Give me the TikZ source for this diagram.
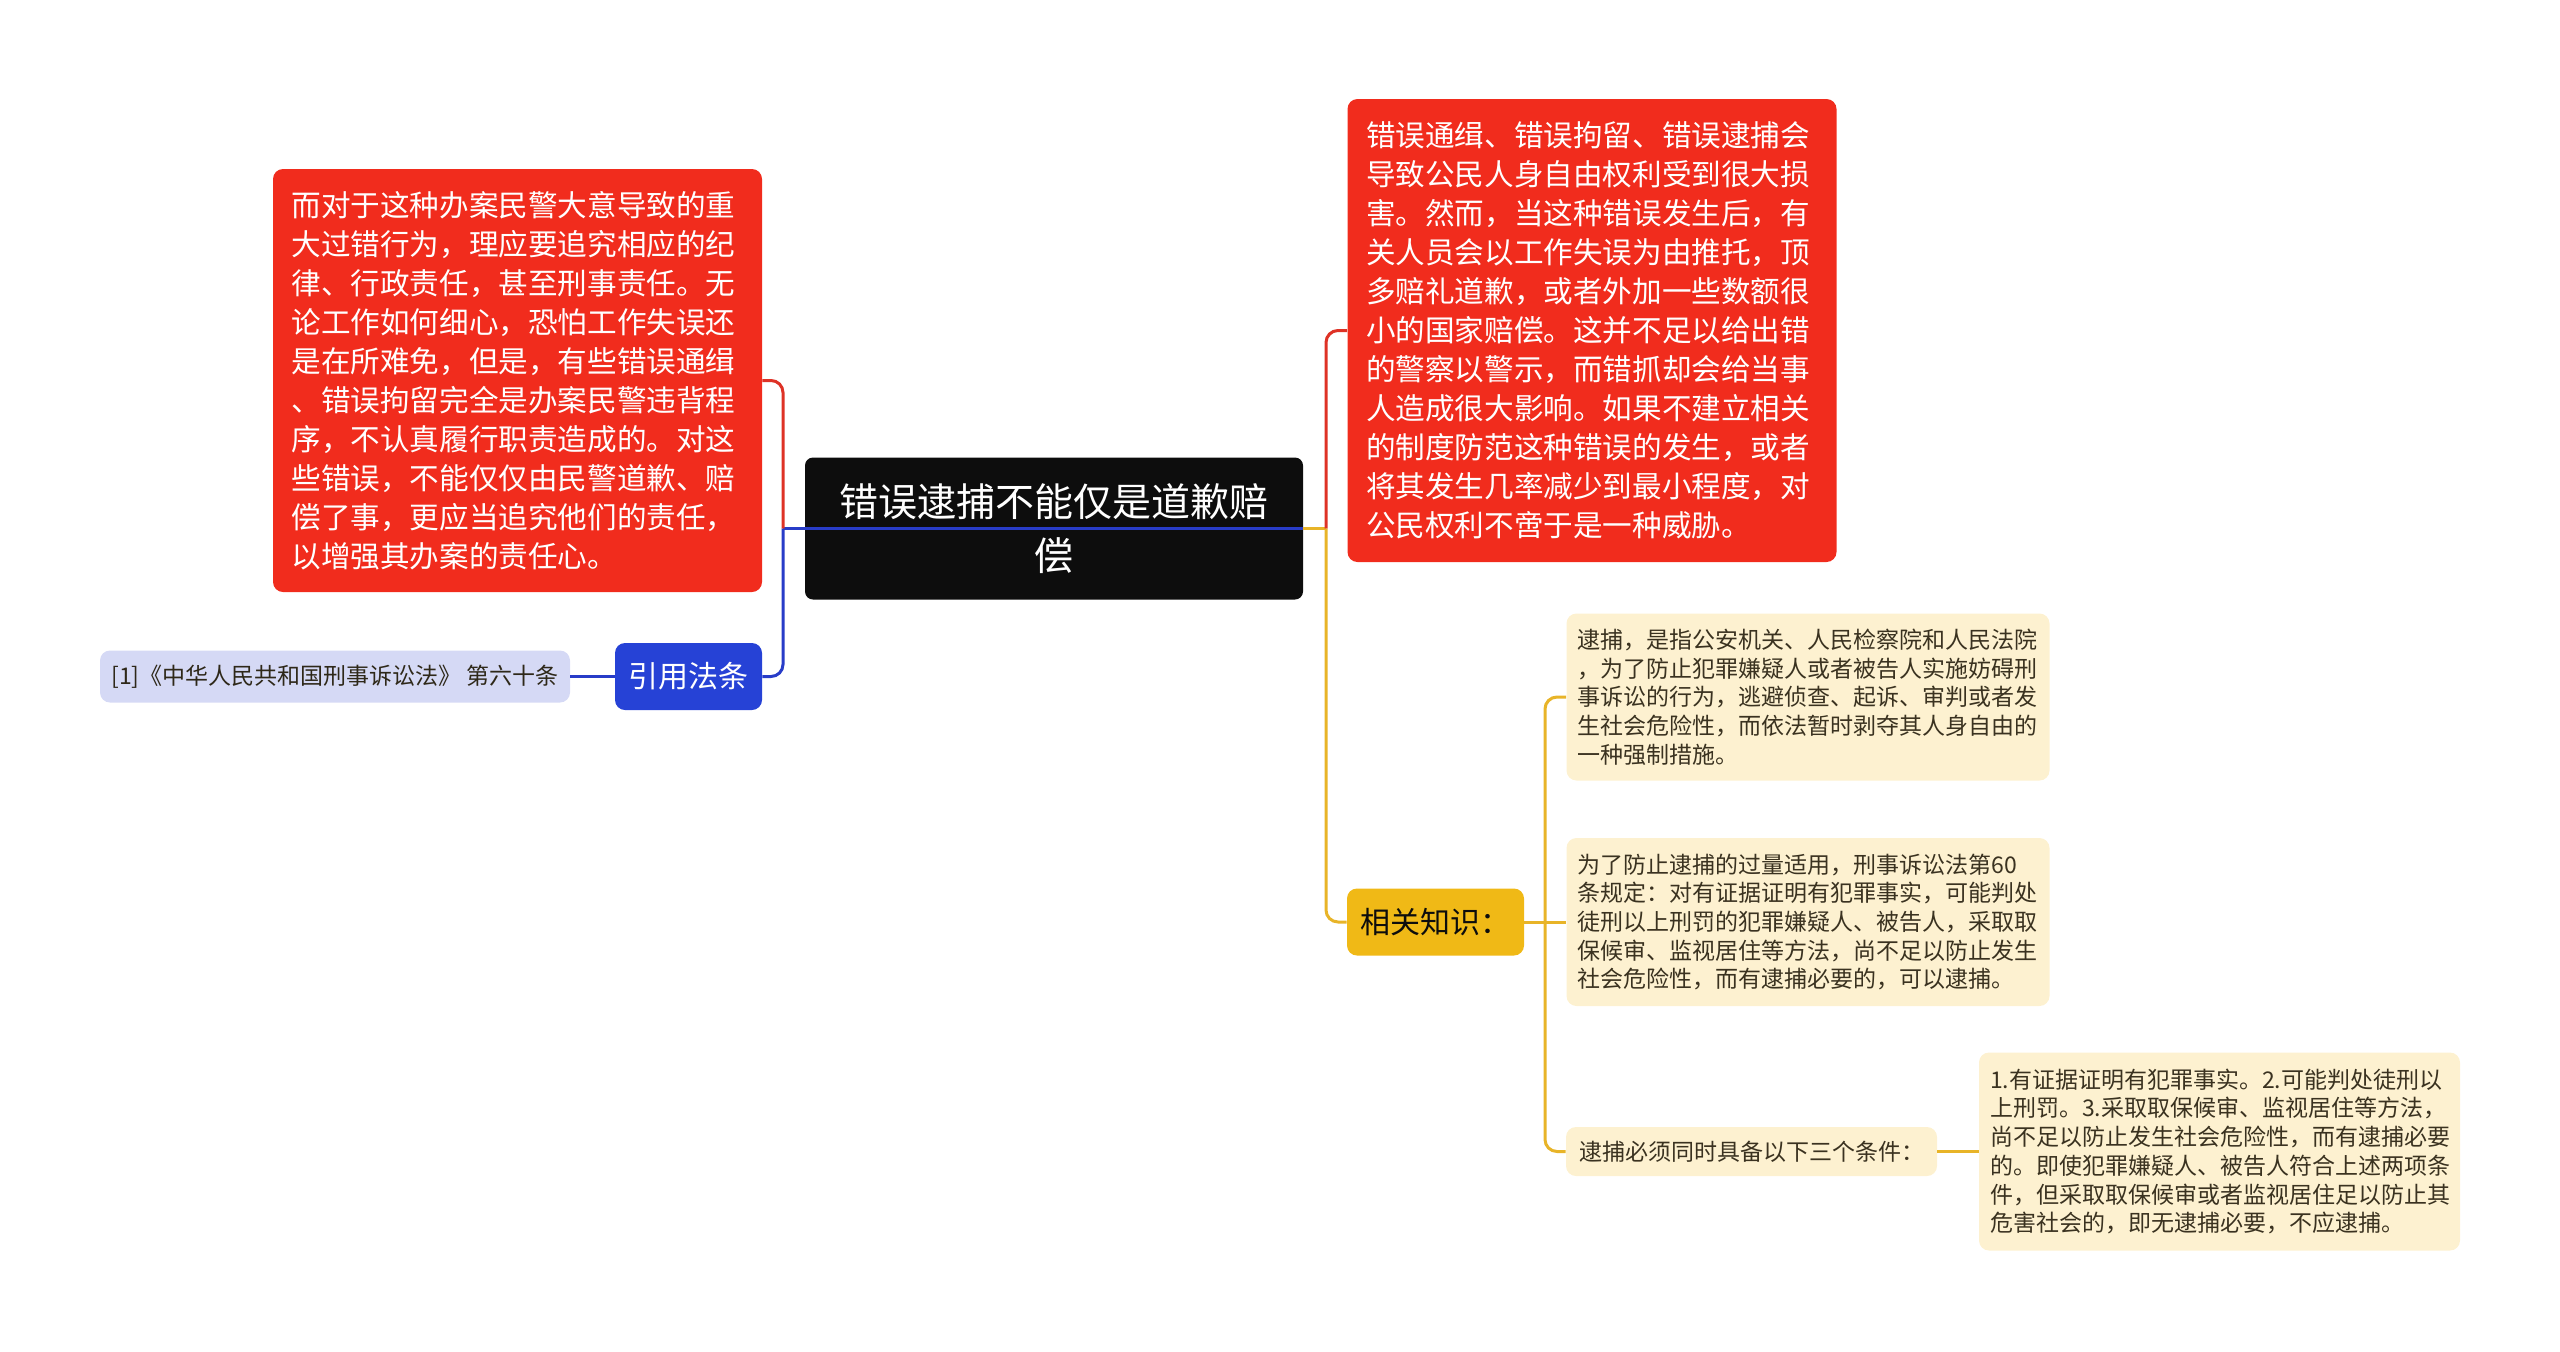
\documentclass[tikz,border=0pt]{standalone}
\usepackage{fontspec}
\setmainfont{Noto Sans CJK SC}
\usepackage{xcolor}
\usepackage{tikz}
\definecolor{mapred}{RGB}{241,44,29}
\definecolor{mapredline}{RGB}{222,50,38}
\definecolor{maproot}{RGB}{13,13,13}
\definecolor{mapblue}{RGB}{38,66,214}
\definecolor{mapblueline}{RGB}{40,60,200}
\definecolor{mapcite}{RGB}{213,217,245}
\definecolor{mapyellow}{RGB}{240,185,22}
\definecolor{mapyellowline}{RGB}{232,180,40}
\definecolor{mappale}{RGB}{253,241,208}
\definecolor{maptext}{RGB}{58,50,32}

\begin{document}
\begin{tikzpicture}[x=0.5pt, y=-0.5pt]
    % Define styles
    \tikzstyle{block} = [rectangle, rounded corners=5pt, inner ysep=3pt, align=left]
    \tikzstyle{rootblock} = [block, fill=maproot, text=white, align=center, text width=226pt, inner xsep=11.5pt, minimum height=71pt, rounded corners=4pt, font=\fontsize{19.5pt}{27pt}\selectfont]
    \tikzstyle{redblock} = [block, fill=mapred, text=white, text width=226pt, inner xsep=9.25pt, font=\fontsize{14.8pt}{19.5pt}\selectfont]
    \tikzstyle{tagblock} = [block, align=center, minimum height=33.5pt, font=\fontsize{15pt}{18pt}\selectfont]
    \tikzstyle{noteblock} = [block, fill=mappale, text=maptext, text width=230.5pt, inner xsep=5.5pt, font=\fontsize{11.5pt}{14.35pt}\selectfont]
    \tikzstyle{line} = [draw, line width=1.5pt, rounded corners=6pt]

    \useasboundingbox (0,0) rectangle (2560,1351);

    % Nodes
    \node [rootblock] (root) at (1054,528.5) {错误逮捕不能仅是道歉赔\\偿};
    \node [redblock, minimum height=211.5pt] (duty) at (517.5,380.5) {而对于这种办案民警大意导致的重\\大过错行为，理应要追究相应的纪\\律、行政责任，甚至刑事责任。无\\论工作如何细心，恐怕工作失误还\\是在所难免，但是，有些错误通缉\\、错误拘留完全是办案民警违背程\\序，不认真履行职责造成的。对这\\些错误，不能仅仅由民警道歉、赔\\偿了事，更应当追究他们的责任，\\以增强其办案的责任心。};
    \node [redblock, minimum height=231.5pt] (harm) at (1592,330.5) {错误通缉、错误拘留、错误逮捕会\\导致公民人身自由权利受到很大损\\害。然而，当这种错误发生后，有\\关人员会以工作失误为由推托，顶\\多赔礼道歉，或者外加一些数额很\\小的国家赔偿。这并不足以给出错\\的警察以警示，而错抓却会给当事\\人造成很大影响。如果不建立相关\\的制度防范这种错误的发生，或者\\将其发生几率减少到最小程度，对\\公民权利不啻于是一种威胁。};
    \node [tagblock, fill=mapblue, text=white, minimum width=73.5pt] (lawref) at (688.5,676.5) {引用法条};
    \node [block, fill=mapcite, text=maptext!80!black, align=center, minimum width=235pt, minimum height=26pt, font=\fontsize{11.5pt}{14pt}\selectfont] (cite) at (335,676.5) {[1]《中华人民共和国刑事诉讼法》 第六十条};
    \node [tagblock, fill=mapyellow, text=maproot, minimum width=88.5pt] (know) at (1435.5,922) {相关知识：};
    \node [noteblock, minimum height=83.5pt] (define) at (1808,697) {逮捕，是指公安机关、人民检察院和人民法院\\，为了防止犯罪嫌疑人或者被告人实施妨碍刑\\事诉讼的行为，逃避侦查、起诉、审判或者发\\生社会危险性，而依法暂时剥夺其人身自由的\\一种强制措施。};
    \node [noteblock, minimum height=84pt] (basis) at (1808,922) {为了防止逮捕的过量适用，刑事诉讼法第60\\条规定：对有证据证明有犯罪事实，可能判处\\徒刑以上刑罚的犯罪嫌疑人、被告人，采取取\\保候审、监视居住等方法，尚不足以防止发生\\社会危险性，而有逮捕必要的，可以逮捕。};
    \node [block, fill=mappale, text=maptext, align=center, minimum width=185.5pt, minimum height=24.5pt, font=\fontsize{11.5pt}{14pt}\selectfont] (cond) at (1751.5,1151.5) {逮捕必须同时具备以下三个条件：};
    \node [noteblock, text width=229.5pt, minimum height=99pt] (rules) at (2219.5,1151.5) {1.有证据证明有犯罪事实。2.可能判处徒刑以\\上刑罚。3.采取取保候审、监视居住等方法，\\尚不足以防止发生社会危险性，而有逮捕必要\\的。即使犯罪嫌疑人、被告人符合上述两项条\\件，但采取取保候审或者监视居住足以防止其\\危害社会的，即无逮捕必要，不应逮捕。};

    % Branch points
    \coordinate (lsplit) at (783,528.5);
    \coordinate (rsplit) at (1326,528.5);
    \coordinate (ksplit) at (1545,922);

    % Connections
    \path [line, mapblueline] (root.east) -- (lsplit);
    \path [line, mapredline] (lsplit) |- (duty.east);
    \path [line, mapblueline] (lsplit) |- (lawref.east);
    \path [line, mapblueline] (lawref.west) -- (cite.east);
    \path [line, mapyellowline] (root.east) -- (rsplit);
    \path [line, mapredline] (rsplit) |- (harm.west);
    \path [line, mapyellowline] (rsplit) |- (know.west);
    \path [line, mapyellowline] (know.east) -- (ksplit);
    \path [line, mapyellowline] (ksplit) |- (define.west);
    \path [line, mapyellowline] (ksplit) -- (basis.west);
    \path [line, mapyellowline] (ksplit) |- (cond.west);
    \path [line, mapyellowline] (cond.east) -- (rules.west);
\end{tikzpicture}
\end{document}
